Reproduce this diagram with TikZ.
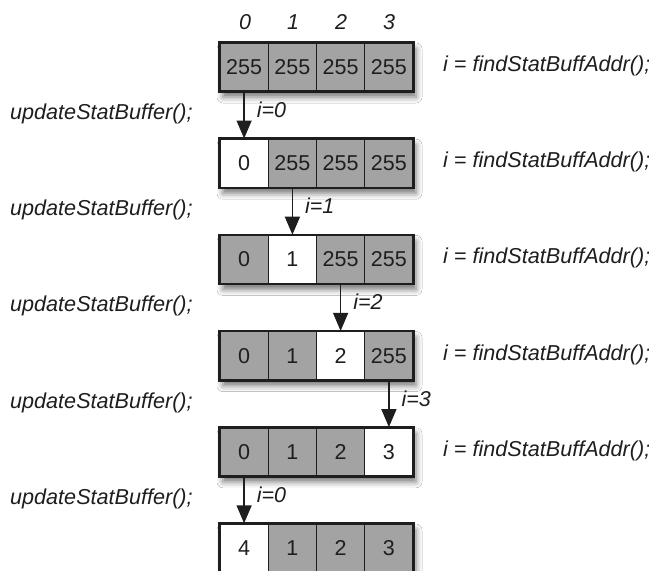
\documentclass[tikz,border=0pt]{standalone}
\usepackage{fontspec}
\setmainfont{Liberation Sans}
\usetikzlibrary{arrows.meta,shadows.blur,positioning}
\definecolor{cellgray}{HTML}{A3A3A3}
\definecolor{ink}{HTML}{1E1E1E}
\tikzset{
  cell/.style={draw=ink, line width=1.4pt, fill=cellgray, minimum width=48.25pt, minimum height=48pt,
    inner sep=0pt, text=ink, font=\fontsize{21.5}{25}\selectfont},
  hot/.style={cell, fill=white},
  rowbox/.style={draw=ink, line width=2.4pt, fill=cellgray,
    blur shadow={shadow xshift=3pt, shadow yshift=-6pt, shadow blur radius=6pt, shadow opacity=55}},
  rowframe/.style={draw=ink, line width=2.4pt},
  code/.style={font=\fontsize{21.6}{25}\selectfont\itshape, text=ink, inner sep=0pt, anchor=west},
  idx/.style={font=\fontsize{21.5}{25}\selectfont\itshape, text=ink, inner sep=0pt},
  flow/.style={draw=ink, line width=1.5pt, -{Triangle[width=15pt,length=18pt]}},
  lab/.style={font=\fontsize{21.5}{25}\selectfont\itshape, text=ink, inner sep=0pt, anchor=west}
}
\begin{document}
\begin{tikzpicture}[x=1pt,y=-1pt]
\path[use as bounding box, clip] (0,0) rectangle (649,571);
\fill[white] (0,0) rectangle (649,571);

% column indices
\node[idx] (h0) at (245,22) {0};
\node[idx] (h1) at (293,22) {1};
\node[idx] (h2) at (341,22) {2};
\node[idx] (h3) at (389,22) {3};

% row shadows / backgrounds
\foreach \t in {43,139.2,235.4,331.6,427.8,524}
  \path[rowbox] (220,\t) rectangle (413.0,\t+48);

% row 0
\node[cell] (r0c0) at (244.1,67) {255};
\node[cell] (r0c1) at (292.4,67) {255};
\node[cell] (r0c2) at (340.6,67) {255};
\node[cell] (r0c3) at (388.9,67) {255};
% row 1
\node[hot]  (r1c0) at (244.1,163.2) {0};
\node[cell] (r1c1) at (292.4,163.2) {255};
\node[cell] (r1c2) at (340.6,163.2) {255};
\node[cell] (r1c3) at (388.9,163.2) {255};
% row 2
\node[cell] (r2c0) at (244.1,259.4) {0};
\node[hot]  (r2c1) at (292.4,259.4) {1};
\node[cell] (r2c2) at (340.6,259.4) {255};
\node[cell] (r2c3) at (388.9,259.4) {255};
% row 3
\node[cell] (r3c0) at (244.1,355.6) {0};
\node[cell] (r3c1) at (292.4,355.6) {1};
\node[hot]  (r3c2) at (340.6,355.6) {2};
\node[cell] (r3c3) at (388.9,355.6) {255};
% row 4
\node[cell] (r4c0) at (244.1,451.8) {0};
\node[cell] (r4c1) at (292.4,451.8) {1};
\node[cell] (r4c2) at (340.6,451.8) {2};
\node[hot]  (r4c3) at (388.9,451.8) {3};
% row 5
\node[hot]  (r5c0) at (244.1,548) {4};
\node[cell] (r5c1) at (292.4,548) {1};
\node[cell] (r5c2) at (340.6,548) {2};
\node[cell] (r5c3) at (388.9,548) {3};

% outer frames
\foreach \k in {0,...,5}
  \draw[rowframe] (r\k c0.north west) rectangle (r\k c3.south east);

% arrows
\draw[flow] (r0c0.south) -- node[lab, right=12pt, yshift=3pt, pos=0.45] {i=0} (r1c0.north);
\draw[flow] (r1c1.south) -- node[lab, right=12pt, yshift=3pt, pos=0.45] {i=1} (r2c1.north);
\draw[flow] (r2c2.south) -- node[lab, right=12pt, yshift=3pt, pos=0.45] {i=2} (r3c2.north);
\draw[flow] (r3c3.south) -- node[lab, right=12pt, yshift=3pt, pos=0.45] {i=3} (r4c3.north);
\draw[flow] (r4c0.south) -- node[lab, right=12pt, yshift=3pt, pos=0.45] {i=0} (r5c0.north);

% right-hand calls
\foreach \k/\y in {0/66,1/162.2,2/258.4,3/354.6,4/450.8}
  \node[code] (f\k) at (443,\y) {i = findStatBuffAddr();};

% left-hand calls
\foreach \k/\y in {0/114,1/210.2,2/306.4,3/402.6,4/498.8}
  \node[code] (u\k) at (10,\y) {updateStatBuffer();};
\end{tikzpicture}
\end{document}
